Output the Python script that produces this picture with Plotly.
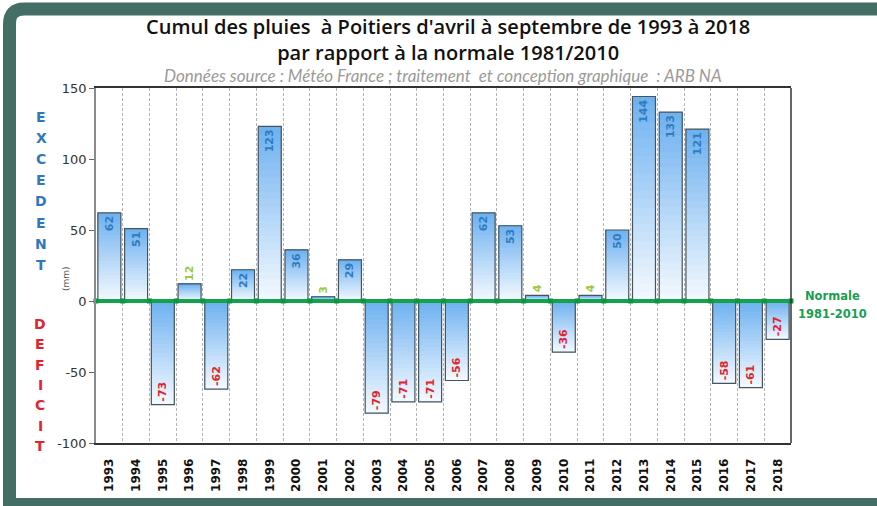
import plotly.graph_objects as go

# ---------------- data ----------------
years = [str(y) for y in range(1993, 2019)]
ecarts = [62, 51, -73, 12, -62, 22, 123, 36, 3, 29, -79, -71, -71, -56,
          62, 53, 4, -36, 4, 50, 144, 133, 121, -58, -61, -27]
y_ticks = [-100, -50, 0, 50, 100, 150]
title_l1 = "Cumul des pluies  à Poitiers d'avril à septembre de 1993 à 2018"
title_l2 = "par rapport à la normale 1981/2010"
subtitle = "Données source : Météo France ; traitement  et conception graphique  : ARB NA"
excedent = "EXCEDENT"
deficit = "DEFICIT"
normale = ["Normale", "1981-2010"]

# ---------------- layout geometry ----------------
W, H = 877, 506
PL, PT, PW, PH = 96, 88, 695, 355


def px(xp):
    return (xp - PL) / PW


def py(yp):
    return (PT + PH - yp) / PH


TEAL = "#436e66"
GREEN = "#14a34c"
BLUE_TXT = "#2f7cc0"
RED_TXT = "#e2232c"
LIME_TXT = "#9cc93e"

fig = go.Figure()
xs = list(range(len(years)))
BW = 0.86

# gradient fill: overlaid bars, each covering from a fraction of the value to the end
top_rgb = (108, 176, 240)
low_rgb = (245, 250, 255)


def mix(t):
    return "rgb(%d,%d,%d)" % tuple(
        round(low_rgb[i] + (top_rgb[i] - low_rgb[i]) * t) for i in range(3))


N = 24
for k in range(N):
    frac = k / N
    t = (k + 0.5) / N
    cols = [mix(t) if v > 0 else mix(1 - t) for v in ecarts]
    fig.add_bar(x=xs, y=[v * (1 - frac) for v in ecarts],
                base=[v * frac for v in ecarts], width=BW,
                marker=dict(color=cols, line=dict(width=0)),
                hoverinfo="skip", showlegend=False)

# outline + labels
small = [abs(v) < 15 for v in ecarts]
positions = ["outside" if s else "inside" for s in small]
txt_cols = [LIME_TXT if s else (BLUE_TXT if v > 0 else RED_TXT) for s, v in zip(small, ecarts)]
fig.add_bar(x=xs, y=ecarts, width=BW,
            marker=dict(color="rgba(0,0,0,0)", line=dict(color="#46545e", width=1.2)),
            text=[str(v) for v in ecarts], textposition=positions, textangle=-90,
            insidetextanchor="end", constraintext="none", cliponaxis=False,
            textfont=dict(family="DejaVu Sans", size=11, color=txt_cols, weight="bold"),
            hovertemplate="%{y}<extra></extra>", showlegend=False)

# normal (zero) line with markers at category boundaries
bounds = [i - 0.5 for i in range(len(years) + 1)]
fig.add_scatter(x=bounds, y=[0] * len(bounds), mode="lines+markers",
                line=dict(color=GREEN, width=4),
                marker=dict(symbol="square", size=5, color="#0f9443"),
                hoverinfo="skip", showlegend=False, cliponaxis=False)

fig.update_layout(
    width=W, height=H, barmode="overlay",
    margin=dict(l=PL, r=W - PL - PW, t=PT, b=H - PT - PH),
    paper_bgcolor="white", plot_bgcolor="white",
    showlegend=False,
)

fig.update_xaxes(
    range=[-0.5, len(years) - 0.5], tickmode="array", tickvals=xs, ticktext=years,
    tickangle=-90, tickfont=dict(family="DejaVu Sans", size=12, color="#111", weight="bold"),
    showgrid=False, zeroline=False, showline=True, linecolor="#333", linewidth=1.5,
    mirror=True, ticks="", ticklabelstandoff=9,
    minor=dict(tick0=0.5, dtick=1, showgrid=True, gridcolor="#b3b3b3",
               griddash="3px,2px", gridwidth=1, ticks=""),
)
fig.update_yaxes(
    range=[-100, 150], tickmode="array", tickvals=y_ticks,
    ticktext=[str(v) for v in y_ticks],
    tickfont=dict(family="DejaVu Sans", size=13, color="#333"),
    showgrid=False, zeroline=False, showline=True, linecolor="#8a8a8a", linewidth=1.5,
    ticks="outside", ticklen=5, tickcolor="#666",
)

ann = []
ann.append(dict(x=px(448), y=py(39.5), text=title_l1 + "<br>" + title_l2,
                font=dict(family="Open Sans", size=20, color="#111", weight=600)))
ann.append(dict(x=px(443), y=py(75), text="<i>%s</i>" % subtitle,
                font=dict(family="Lato", size=17, color="#9a9a9a")))
for i, ch in enumerate(excedent):
    ann.append(dict(x=px(41), y=py(117 + i * 21.1), text=ch,
                    font=dict(family="DejaVu Sans", size=14, color="#2f78bd", weight="bold")))
for i, ch in enumerate(deficit):
    ann.append(dict(x=px(40), y=py(324 + i * 20.3), text=ch,
                    font=dict(family="DejaVu Sans", size=14, color=RED_TXT, weight="bold")))
ann.append(dict(x=px(66), y=py(279), text="(mm)", textangle=-90,
                font=dict(family="DejaVu Sans", size=9, color="#555")))
ann.append(dict(x=px(833), y=py(296), text=normale[0],
                font=dict(family="DejaVu Sans", size=11.5, color="#1b9d52", weight="bold")))
ann.append(dict(x=px(833), y=py(314), text=normale[1],
                font=dict(family="DejaVu Sans", size=11.5, color="#1b9d52", weight="bold")))
for a in ann:
    a.update(xref="paper", yref="paper", showarrow=False, xanchor="center", yanchor="middle")
fig.update_layout(annotations=ann)

# frame
frame_path = "M %f,%f L %f,%f Q %f,%f %f,%f L %f,%f" % (
    px(9.5), py(520), px(9.5), py(24), px(9.5), py(9), px(24), py(9), px(900), py(9))
fig.add_shape(type="path", path=frame_path, xref="paper", yref="paper",
              line=dict(color=TEAL, width=13))
fig.add_shape(type="rect", xref="paper", yref="paper", x0=px(3), x1=px(900),
              y0=py(498), y1=py(520), fillcolor=TEAL, line=dict(width=0))
fig.add_shape(type="line", xref="paper", yref="paper", x0=1, x1=1, y0=0, y1=1,
              line=dict(color="#333", width=1.5))

fig.write_html("out.html", config={"displayModeBar": False},
               post_script="document.body.style.margin='0';document.body.style.overflow='hidden';")
